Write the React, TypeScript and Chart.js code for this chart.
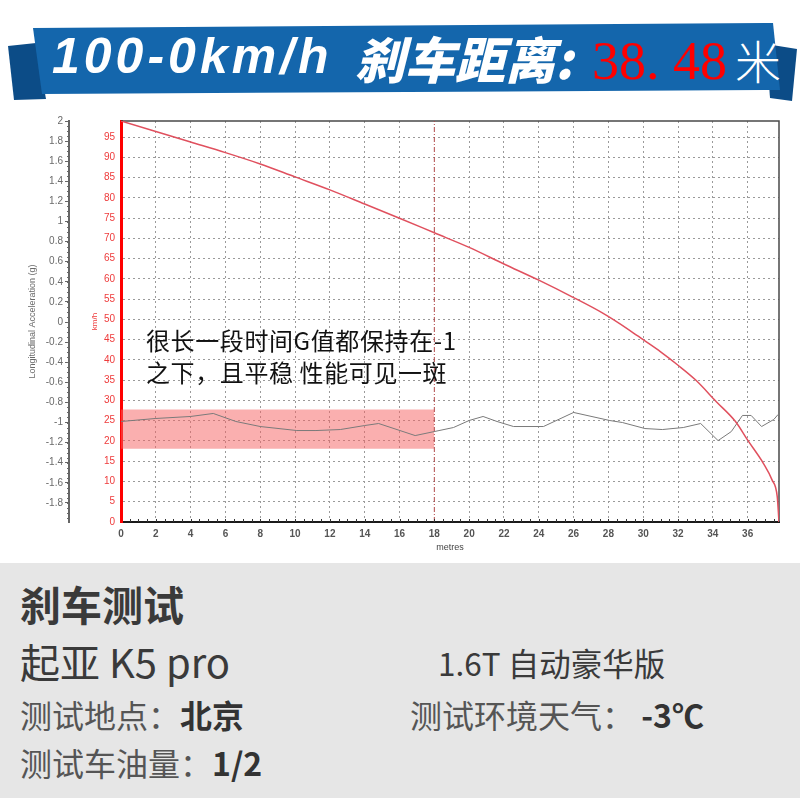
import React, { useEffect, useRef } from "react";
import { Chart, registerables } from "chart.js";

Chart.register(...registerables);

// ---- data ----
const DIST_SPEED = [0, 2, 4, 6, 8, 10, 12, 14, 16, 18, 20, 22, 24, 26, 27.7, 29.2, 30, 31, 32, 33, 34.2, 35.3, 36, 36.9, 37.4, 37.7, 37.8];
const SPEED = [99, 96.4, 93.8, 91.2, 88.4, 85.2, 82.0, 78.5, 75.0, 71.4, 67.8, 63.7, 59.7, 55.4, 51.5, 47.4, 45.0, 42.0, 38.7, 35.1, 29.7, 24.8, 20.2, 14.5, 10.4, 6.2, 0];

const DIST_G = [0, 2, 4, 5.3, 6.6, 8, 10.1, 11.2, 12.6, 14, 14.8, 16.9, 18, 19.1, 20, 20.8, 21.6, 22.55, 24.27, 26, 28.07, 28.8, 30.1, 31.1, 32.3, 33.3, 34.3, 35.06, 35.7, 36.2, 36.8, 37.5, 37.75];
const G_VALUES = [-0.99, -0.96, -0.94, -0.91, -0.99, -1.04, -1.08, -1.08, -1.07, -1.03, -1.01, -1.13, -1.09, -1.05, -0.98, -0.94, -0.99, -1.04, -1.04, -0.9, -0.98, -1.0, -1.06, -1.07, -1.05, -1.01, -1.18, -1.09, -0.93, -0.93, -1.04, -0.97, -0.92];

const X_TICKS = [0, 2, 4, 6, 8, 10, 12, 14, 16, 18, 20, 22, 24, 26, 28, 30, 32, 34, 36];
const SPEED_TICKS = [0, 5, 10, 15, 20, 25, 30, 35, 40, 45, 50, 55, 60, 65, 70, 75, 80, 85, 90, 95];
const G_TICKS = [2, 1.8, 1.6, 1.4, 1.2, 1, 0.8, 0.6, 0.4, 0.2, 0, -0.2, -0.4, -0.6, -0.8, -1, -1.2, -1.4, -1.6, -1.8];

const X_MAX = 37.8;
const SPEED_MAX = 99;
const G_MIN = -1.99;
const G_MAX = 2;

const MARK_X = 18;
const BAND_X = [0, 18];
const BAND_G = [-0.87, -1.26];

const NOTE_LINES = ["很长一段时间G值都保持在-1", "之下，且平稳 性能可见一斑"];

const framePlugin = {
  id: "frame",
  beforeDatasetsDraw(chart: any) {
    const { ctx, chartArea: a } = chart;
    ctx.save();
    ctx.strokeStyle = "#4a4a4a";
    ctx.lineWidth = 1.5;
    ctx.beginPath();
    ctx.moveTo(a.left, a.top);
    ctx.lineTo(a.right, a.top);
    ctx.lineTo(a.right, a.bottom);
    ctx.stroke();
    ctx.restore();
  },
  afterDraw(chart: any) {
    const { ctx, chartArea: a, scales } = chart;
    ctx.save();
    ctx.strokeStyle = "#333";
    ctx.lineWidth = 1;
    const xs = scales.x;
    for (let i = 1; i * 0.5 < X_MAX; i++) {
      const px = Math.round(xs.getPixelForValue(i * 0.5)) + 0.5;
      ctx.beginPath();
      ctx.moveTo(px, a.bottom);
      ctx.lineTo(px, a.bottom - 3);
      ctx.stroke();
    }
    const g = scales.yG;
    ctx.strokeStyle = "#666";
    for (let i = 1; i < 80; i++) {
      const py = Math.round(g.getPixelForValue(-2 + i * 0.05)) + 0.5;
      if (py < a.top || py > a.bottom) continue;
      ctx.beginPath();
      ctx.moveTo(g.right, py);
      ctx.lineTo(g.right - 2, py);
      ctx.stroke();
    }
    ctx.restore();
  },
};

function fmtG(v: number) {
  const r = Math.round(v * 10) / 10;
  return String(r);
}

function BrakeChart() {
  const ref = useRef<HTMLCanvasElement | null>(null);
  useEffect(() => {
    if (!ref.current) return;
    const chart = new Chart(ref.current, {
      type: "line",
      data: {
        datasets: [
          {
            label: "速度",
            data: DIST_SPEED.map((x, i) => ({ x, y: SPEED[i] })),
            yAxisID: "yS",
            borderColor: "#e0505e",
            borderWidth: 1.5,
            pointRadius: 0,
            cubicInterpolationMode: "monotone",
            fill: false,
          },
          {
            label: "G值",
            data: DIST_G.map((x, i) => ({ x, y: G_VALUES[i] })),
            yAxisID: "yG",
            borderColor: "#7a7a7a",
            borderWidth: 1,
            pointRadius: 0,
            tension: 0,
            fill: false,
          },
          {
            label: "marker",
            data: [
              { x: MARK_X, y: 0 },
              { x: MARK_X, y: SPEED_MAX },
            ],
            yAxisID: "yS",
            borderColor: "#b04848",
            borderWidth: 1,
            borderDash: [5, 2, 1, 2],
            pointRadius: 0,
            fill: false,
          },
          {
            label: "band",
            data: [
              { x: BAND_X[0], y: BAND_G[0] },
              { x: BAND_X[1], y: BAND_G[0] },
            ],
            yAxisID: "yG",
            borderColor: "rgba(0,0,0,0)",
            borderWidth: 0,
            pointRadius: 0,
            backgroundColor: "rgba(245,95,95,0.5)",
            fill: { value: BAND_G[1] },
          },
        ],
      },
      options: {
        animation: false,
        responsive: false,
        maintainAspectRatio: false,
        layout: { padding: { top: 21, right: 21, left: 0, bottom: 0 } },
        plugins: { legend: { display: false }, tooltip: { enabled: false } },
        scales: {
          x: {
            type: "linear",
            position: "bottom",
            min: 0,
            max: X_MAX,
            afterBuildTicks: (s: any) => {
              s.ticks = X_TICKS.map((v) => ({ value: v }));
            },
            afterFit: (s: any) => {
              s.height = 41;
            },
            grid: {
              color: (c: any) => (c.tick && c.tick.value === MARK_X ? "rgba(0,0,0,0)" : "#9a9a9a"),
              lineWidth: 1,
              drawTicks: false,
            },
            border: { color: "#1a1a1a", width: 2, dash: [2, 3] },
            ticks: {
              color: "#555",
              font: { size: 10, weight: "bold", family: "'Liberation Sans', Arial, sans-serif" },
              padding: 6,
              maxRotation: 0,
              autoSkip: false,
            },
            title: {
              display: true,
              text: "metres",
              color: "#444",
              font: { size: 9, family: "'Liberation Sans', Arial, sans-serif" },
              padding: { top: 0, bottom: 10 },
            },
          },
          yS: {
            type: "linear",
            position: "left",
            weight: 0,
            min: 0,
            max: SPEED_MAX,
            afterBuildTicks: (s: any) => {
              s.ticks = SPEED_TICKS.map((v) => ({ value: v }));
            },
            afterFit: (s: any) => {
              s.width = 52;
            },
            grid: { color: "#9a9a9a", lineWidth: 1, drawTicks: false },
            border: { color: "#ff0000", width: 3, dash: [2, 3] },
            ticks: {
              color: "#ee3b3b",
              font: { size: 10, family: "'Liberation Sans', Arial, sans-serif" },
              padding: 6,
              autoSkip: false,
            },
            title: {
              display: true,
              text: "km/h",
              color: "#ee3b3b",
              font: { size: 8, family: "'Liberation Sans', Arial, sans-serif" },
              padding: { top: 21, bottom: 0 },
            },
          },
          yG: {
            type: "linear",
            position: "left",
            weight: 1,
            min: G_MIN,
            max: G_MAX,
            afterBuildTicks: (s: any) => {
              s.ticks = G_TICKS.map((v) => ({ value: v }));
            },
            afterFit: (s: any) => {
              s.width = 69;
            },
            grid: { drawOnChartArea: false, drawTicks: true, tickLength: 4, color: "#666" },
            border: { color: "#666", width: 2 },
            ticks: {
              color: "#6a6a6a",
              font: { size: 10, family: "'Liberation Sans', Arial, sans-serif" },
              padding: 2,
              autoSkip: false,
              callback: (v: any) => fmtG(Number(v)),
            },
            title: {
              display: true,
              text: "Longitudinal Acceleration (g)",
              color: "#6a6a6a",
              font: { size: 9, family: "'Liberation Sans', Arial, sans-serif" },
              padding: { top: 27, bottom: 0 },
            },
          },
        },
      } as any,
      plugins: [framePlugin],
    });
    return () => chart.destroy();
  }, []);
  return (
    <canvas
      ref={ref}
      width={800}
      height={463}
      style={{ position: "absolute", left: 0, top: 100, width: 800, height: 463 }}
    />
  );
}

const CJK = "'Noto Sans CJK SC', 'Noto Sans', sans-serif";

export default function App() {
  return (
    <div
      style={{
        position: "absolute",
        left: 0,
        top: 0,
        width: 800,
        height: 798,
        background: "#fff",
        overflow: "hidden",
        fontFamily: CJK,
      }}
    >
      {/* header ribbon */}
      <svg width={800} height={110} style={{ position: "absolute", left: 0, top: 0 }}>
        <polygon points="8,46 36,43 46,99 14,100" fill="#0c4c87" />
        <polygon points="766,44 797,49 792,101 770,98" fill="#0c4c87" />
        <polygon points="33,28 773,23 780,90 42,94" fill="#1466ac" />
      </svg>
      <span
        style={{
          position: "absolute",
          left: 52,
          top: 31,
          fontFamily: "'Liberation Sans', Arial, sans-serif",
          fontSize: 50,
          lineHeight: "50px",
          fontWeight: 900,
          fontStyle: "italic",
          letterSpacing: 4,
          color: "#fff",
          whiteSpace: "pre",
        }}
      >
        100-0km/h
      </span>
      <span
        style={{
          position: "absolute",
          left: 355,
          top: 32,
          fontFamily: CJK,
          fontSize: 50,
          lineHeight: "50px",
          fontWeight: 900,
          fontStyle: "italic",
          color: "#fff",
          whiteSpace: "pre",
        }}
      >
        刹车距离:
      </span>
      <span
        style={{
          position: "absolute",
          left: 592,
          top: 34,
          fontFamily: "'Liberation Serif', 'DejaVu Serif', serif",
          fontSize: 54,
          lineHeight: "54px",
          color: "#ff0000",
          whiteSpace: "pre",
        }}
      >
        38. 48
      </span>
      <span
        style={{
          position: "absolute",
          left: 735,
          top: 36,
          fontFamily: CJK,
          fontSize: 46,
          lineHeight: "46px",
          fontWeight: 300,
          color: "#fff",
          whiteSpace: "pre",
        }}
      >
        米
      </span>

      <BrakeChart />

      {/* annotation */}
      <div
        style={{
          position: "absolute",
          left: 146,
          top: 324,
          fontFamily: CJK,
          fontSize: 24,
          lineHeight: "32px",
          letterSpacing: 0.6,
          color: "#111",
          whiteSpace: "pre",
        }}
      >
        {NOTE_LINES[0]}
        {"\n"}
        {NOTE_LINES[1]}
      </div>

      {/* info panel */}
      <div
        style={{
          position: "absolute",
          left: 0,
          top: 563,
          width: 800,
          height: 235,
          background: "#e6e6e6",
          color: "#3a3a3a",
          fontFamily: CJK,
        }}
      >
        <div style={{ position: "absolute", left: 20, top: 20, fontSize: 41, lineHeight: "41px", fontWeight: 700, whiteSpace: "pre" }}>
          刹车测试
        </div>
        <div style={{ position: "absolute", left: 20, top: 78, fontSize: 40, lineHeight: "40px", fontWeight: 400, whiteSpace: "pre" }}>
          起亚 K5 pro
        </div>
        <div style={{ position: "absolute", left: 438, top: 83, fontSize: 31.5, lineHeight: "32px", fontWeight: 400, whiteSpace: "pre" }}>
          1.6T 自动豪华版
        </div>
        <div style={{ position: "absolute", left: 20, top: 135, fontSize: 32, lineHeight: "32px", fontWeight: 400, color: "#555", whiteSpace: "pre" }}>
          测试地点：<span style={{ fontWeight: 700, color: "#333" }}>北京</span>
        </div>
        <div style={{ position: "absolute", left: 410, top: 135, fontSize: 32, lineHeight: "32px", fontWeight: 400, color: "#555", whiteSpace: "pre" }}>
          测试环境天气： <span style={{ fontWeight: 700, color: "#333" }}>-3℃</span>
        </div>
        <div style={{ position: "absolute", left: 20, top: 183, fontSize: 32, lineHeight: "32px", fontWeight: 400, color: "#555", whiteSpace: "pre" }}>
          测试车油量：<span style={{ fontWeight: 700, color: "#333" }}>1/2</span>
        </div>
      </div>
    </div>
  );
}
